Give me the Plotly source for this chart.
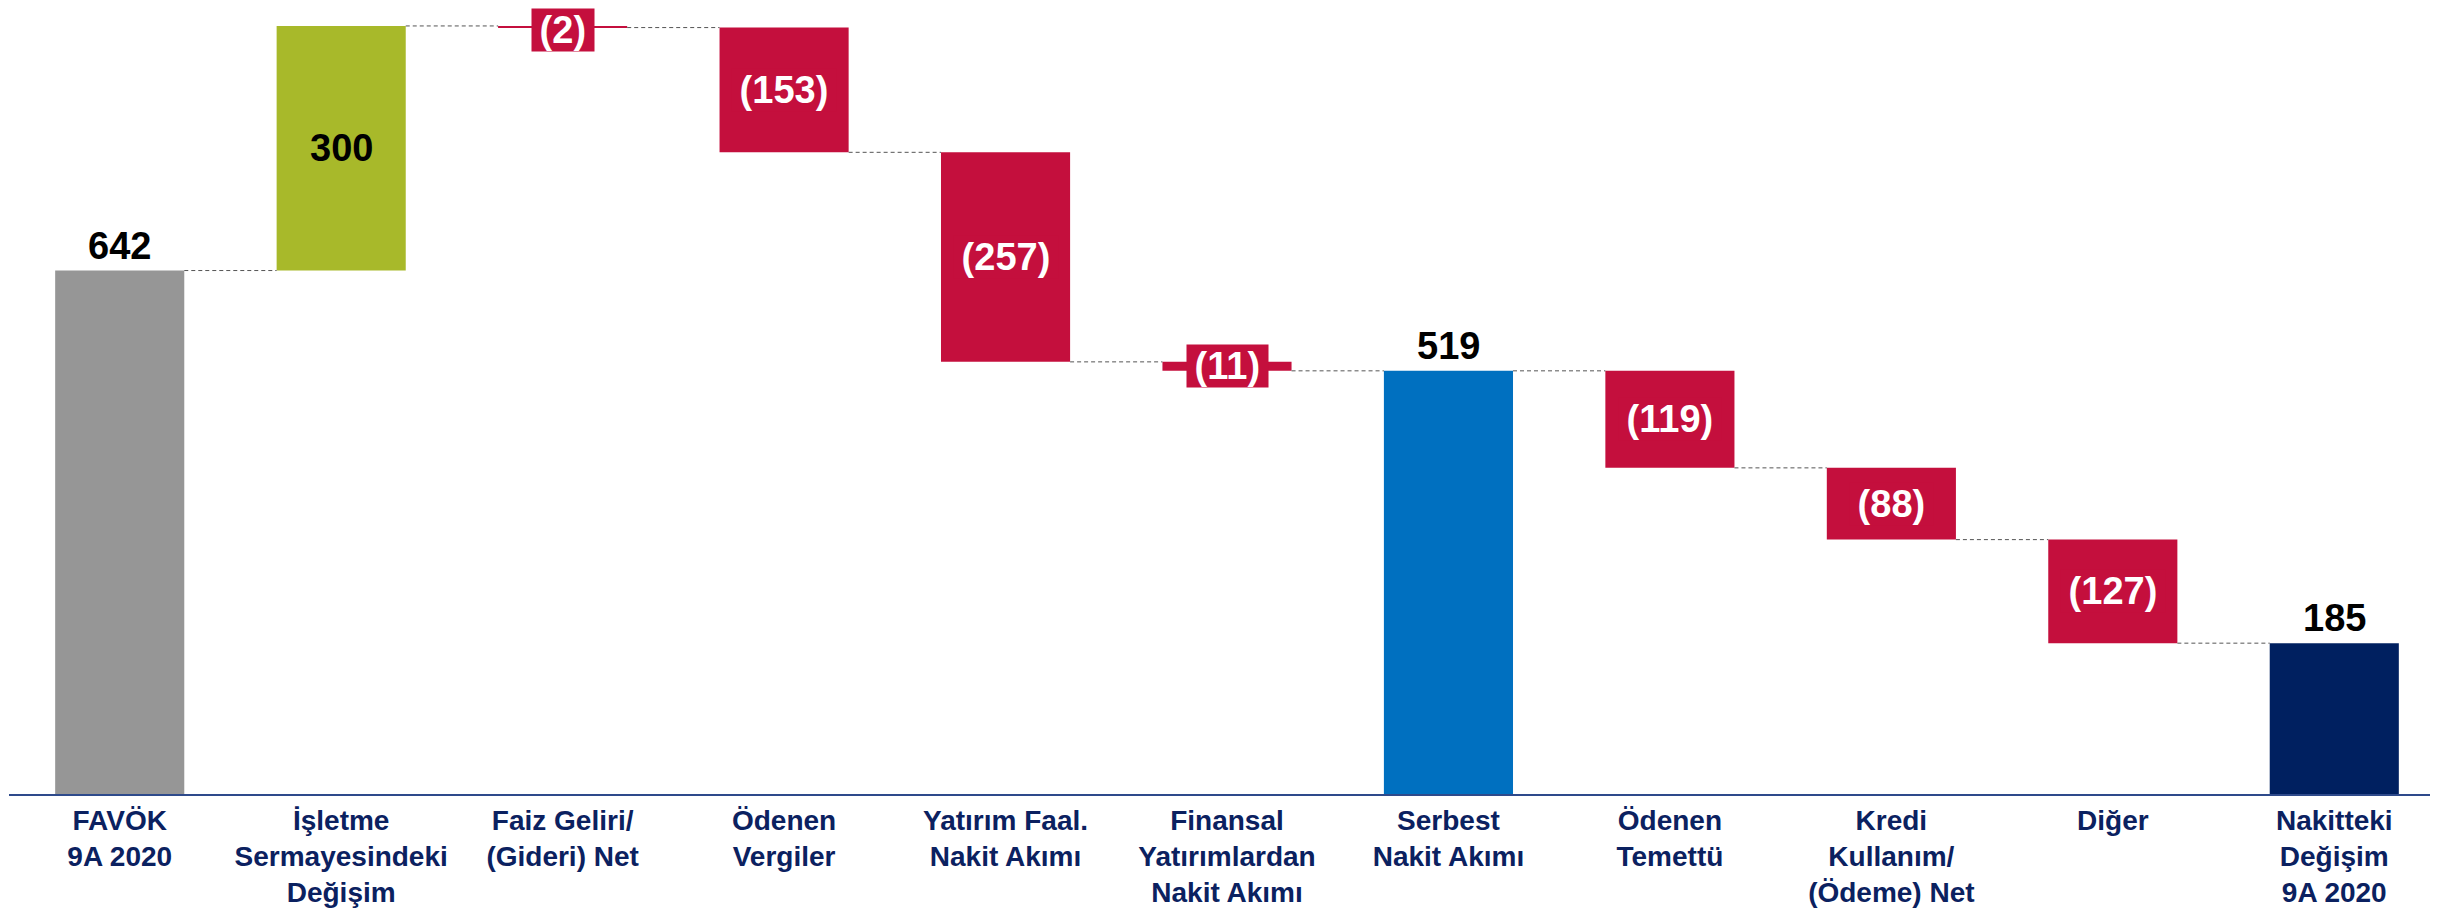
import plotly.graph_objects as go

categories = ["FAVÖK<br>9A 2020", "İşletme<br>Sermayesindeki<br>Değişim", "Faiz Geliri/<br>(Gideri) Net",
              "Ödenen<br>Vergiler", "Yatırım Faal.<br>Nakit Akımı", "Finansal<br>Yatırımlardan<br>Nakit Akımı",
              "Serbest<br>Nakit Akımı", "Ödenen<br>Temettü", "Kredi<br>Kullanım/<br>(Ödeme) Net", "Diğer",
              "Nakitteki<br>Değişim<br>9A 2020"]
values = [642, 300, -2, -153, -257, -11, 519, -119, -88, -127, 185]
measures = ["absolute", "relative", "relative", "relative", "relative", "relative",
            "total", "relative", "relative", "relative", "total"]
labels = ["642", "300", "(2)", "(153)", "(257)", "(11)", "519", "(119)", "(88)", "(127)", "185"]
colors = ["#969696", "#A8B92A", "#C40F3D", "#C40F3D", "#C40F3D", "#C40F3D",
          "#0070C0", "#C40F3D", "#C40F3D", "#C40F3D", "#002060"]

# compute bases / ends
bases, heights, ends = [], [], []
run = 0
for v, m in zip(values, measures):
    if m == "absolute":
        b, h = 0, v
        run = v
    elif m == "total":
        b, h = 0, run
    else:
        if v >= 0:
            b, h = run, v
        else:
            b, h = run + v, -v
        run += v
    bases.append(b)
    heights.append(h)
    ends.append(run)

xs = list(range(len(categories)))
BW = 0.583
LBL = "Liberation Sans, Arial, sans-serif"
CAT = "Liberation Sans Narrow, Arial Narrow, Liberation Sans, Arial, sans-serif"
YMAX = 964
TS = "\u2009"

fig = go.Figure()
fig.add_trace(go.Bar(x=xs, y=heights, base=bases, width=BW, marker=dict(color=colors, line=dict(width=0)),
                     hoverinfo="skip", showlegend=False))

# connectors
cx, cy = [], []
for i in range(len(xs) - 1):
    lvl = ends[i]
    cx += [xs[i] + BW / 2, xs[i + 1] - BW / 2, None]
    cy += [lvl, lvl, None]
fig.add_trace(go.Scatter(x=cx, y=cy, mode="lines", line=dict(color="#555555", width=1, dash="4px,3px"),
                         hoverinfo="skip", showlegend=False))

annotations = []
for i, (v, m) in enumerate(zip(values, measures)):
    if m in ("absolute", "total"):
        annotations.append(dict(x=xs[i], y=bases[i] + heights[i], text="<b>%s</b>" % labels[i],
                                showarrow=False, yanchor="bottom", yshift=2,
                                font=dict(family=LBL, size=38, color="#000000")))
    elif v >= 0:
        annotations.append(dict(x=xs[i], y=bases[i] + heights[i] / 2, text="<b>%s</b>" % labels[i],
                                showarrow=False, yanchor="middle",
                                font=dict(family=LBL, size=38, color="#000000")))
    else:
        mid = bases[i] + heights[i] / 2
        shift = -3 if mid > YMAX - 30 else 0
        annotations.append(dict(x=xs[i], y=mid, text="<b>%s%s%s</b>" % (TS, labels[i], TS),
                                showarrow=False, yanchor="middle", bgcolor="#C40F3D", borderpad=0,
                                yshift=shift,
                                font=dict(family=LBL, size=38, color="#FFFFFF")))

fig.update_layout(
    width=2437, height=900,
    margin=dict(l=1, r=0, t=0, b=114),
    plot_bgcolor="white", paper_bgcolor="white",
    annotations=annotations,
    xaxis=dict(range=[-0.5, 10.5], tickvals=xs, ticktext=["<b>%s</b>" % c for c in categories],
               tickfont=dict(family=CAT, size=28, color="#0B2160"), showgrid=False, zeroline=False,
               showline=True, linecolor="#2E4A8B", linewidth=2, ticks="", automargin=False),
    yaxis=dict(range=[0, YMAX], visible=False, showgrid=False, zeroline=False),
)
fig.write_html("out.html")
